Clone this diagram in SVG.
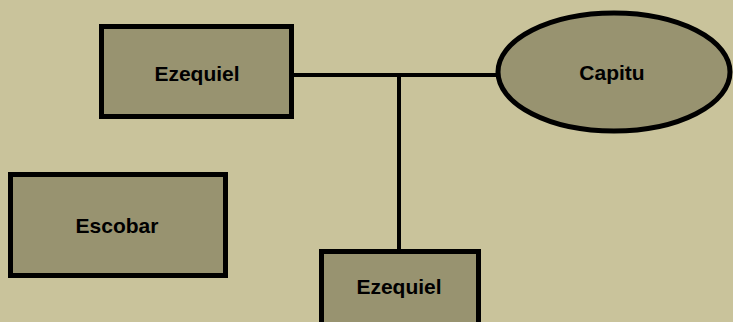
<svg xmlns="http://www.w3.org/2000/svg" width="733" height="322" viewBox="0 0 733 322">
<style>
.n{fill:#989370;stroke:#000;stroke-width:5}
.t{font-family:"Liberation Sans",Arial,sans-serif;font-weight:bold;font-size:21px;fill:#000;text-anchor:middle}
.c{stroke:#000;stroke-width:4;fill:none}
</style>
<rect width="733" height="322" fill="#C9C39B"/>
<g id="connectors">
<line class="c" x1="292" y1="75" x2="498" y2="75"/>
<line class="c" x1="399" y1="75" x2="399" y2="251"/>
</g>
<g id="ezequiel1">
<rect class="n" x="101.5" y="26.5" width="190" height="90"/>
<text class="t" x="197" y="81">Ezequiel</text>
</g>
<g id="capitu">
<ellipse class="n" cx="614" cy="72" rx="116" ry="59"/>
<text class="t" x="612" y="80">Capitu</text>
</g>
<g id="escobar">
<rect class="n" x="10.5" y="174.5" width="215" height="101"/>
<text class="t" x="117" y="233">Escobar</text>
</g>
<g id="ezequiel2">
<rect class="n" x="321.5" y="251.5" width="157" height="80"/>
<text class="t" x="399" y="294">Ezequiel</text>
</g>
</svg>
